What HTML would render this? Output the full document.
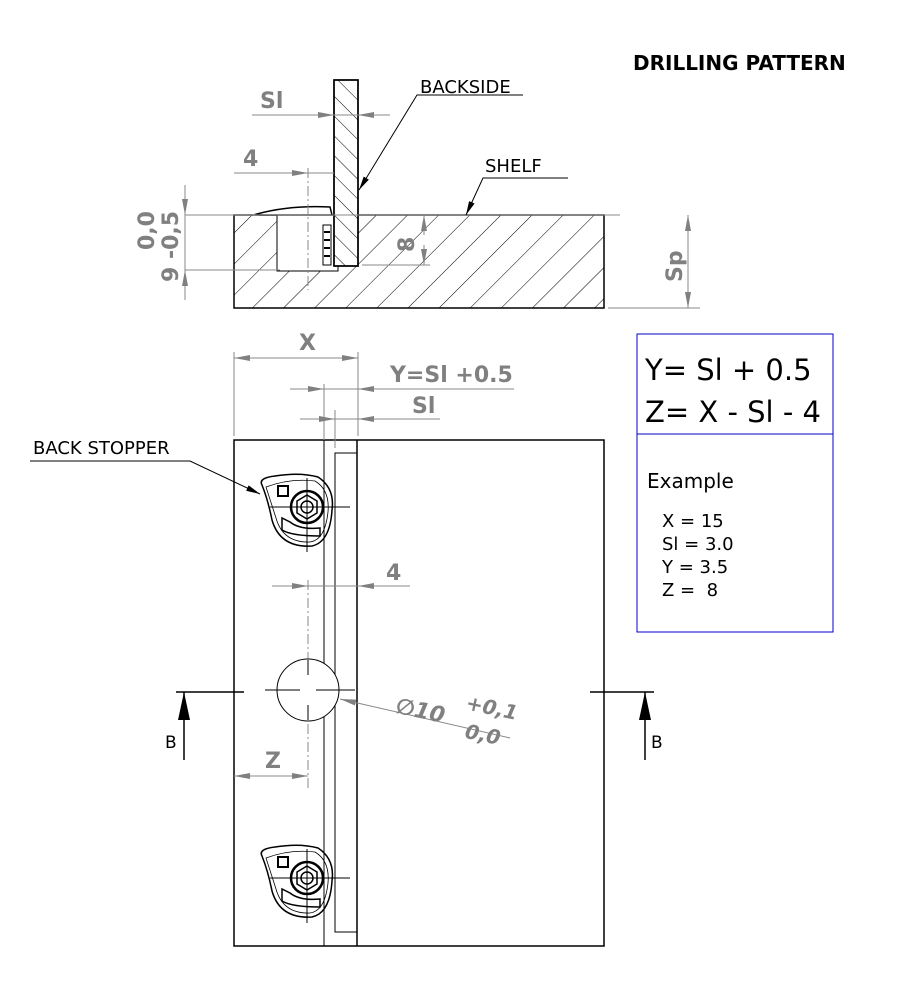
<!DOCTYPE html>
<html><head><style>
body{margin:0;background:#fff}
svg{display:block}
.d{fill:#808080;font-family:"DejaVu Sans","Liberation Sans",sans-serif;font-weight:bold}
.t{fill:#000;font-family:"DejaVu Sans","Liberation Sans",sans-serif}
</style></head><body>
<svg width="919" height="1007" viewBox="0 0 919 1007" xmlns="http://www.w3.org/2000/svg">
<defs>
<pattern id="h" width="22" height="22" patternUnits="userSpaceOnUse" patternTransform="rotate(45)">
<line x1="0" y1="0" x2="0" y2="22" stroke="#000" stroke-width="1"/></pattern>
<pattern id="h2" width="14" height="14" patternUnits="userSpaceOnUse" patternTransform="rotate(-45)">
<line x1="0" y1="0" x2="0" y2="14" stroke="#000" stroke-width="1"/></pattern>
<marker id="a" markerWidth="16" markerHeight="6" refX="16" refY="3" orient="auto" markerUnits="userSpaceOnUse">
<path d="M0,0 L16,3 L0,6z" fill="#808080"/></marker>
<marker id="k" markerWidth="14" markerHeight="6" refX="14" refY="3" orient="auto" markerUnits="userSpaceOnUse">
<path d="M0,0 L14,3 L0,6z" fill="#000"/></marker>
</defs>
<text x="633" y="70" class="t" font-size="20" font-weight="bold">DRILLING PATTERN</text>

<rect x="234" y="215" width="370" height="93" fill="url(#h)" stroke="#000" stroke-width="1.5"/>
<rect x="277" y="215" width="61" height="56" fill="#fff" stroke="#000"/>
<rect x="334" y="80" width="24" height="186" fill="#fff" stroke="#000" stroke-width="1.5"/>
<rect x="334" y="80" width="24" height="186" fill="url(#h2)" stroke="#000" stroke-width="1.5"/>
<path d="M257,214 Q290,205 330,207 L332,215 L260,215z" fill="#fff" stroke="#000" stroke-width="1.5"/>
<rect x="323" y="225" width="8" height="40" fill="#fff" stroke="#000"/>
<g stroke="#000" stroke-width="2"><line x1="324" y1="232" x2="330" y2="232"/><line x1="324" y1="240" x2="330" y2="240"/><line x1="324" y1="248" x2="330" y2="248"/><line x1="324" y1="256" x2="330" y2="256"/></g>
<g stroke="#888" stroke-width="1" fill="none">
<line x1="252" y1="115" x2="390" y2="115"/>
<line x1="312" y1="115" x2="334" y2="115" marker-end="url(#a)"/>
<line x1="385" y1="115" x2="358" y2="115" marker-end="url(#a)"/>
<line x1="234" y1="173" x2="334" y2="173"/>
<line x1="288" y1="173" x2="308" y2="173" marker-end="url(#a)"/>
<line x1="308" y1="168" x2="308" y2="290" stroke-dasharray="10,3,2,3"/>
<line x1="185" y1="215" x2="620" y2="215"/>
<line x1="185" y1="270" x2="280" y2="270"/>
<line x1="185" y1="185" x2="185" y2="300"/>
<line x1="185" y1="190" x2="185" y2="215" marker-end="url(#a)"/>
<line x1="185" y1="295" x2="185" y2="270" marker-end="url(#a)"/>
<line x1="362" y1="265" x2="430" y2="265"/>
<line x1="424" y1="235" x2="424" y2="215" marker-end="url(#a)"/>
<line x1="424" y1="245" x2="424" y2="265" marker-end="url(#a)"/>
<line x1="608" y1="308" x2="700" y2="308"/>
<line x1="688" y1="215" x2="688" y2="308"/>
<line x1="688" y1="250" x2="688" y2="215" marker-end="url(#a)"/>
<line x1="688" y1="270" x2="688" y2="308" marker-end="url(#a)"/>
</g>
<text x="260" y="108" class="d" font-size="22">Sl</text>
<text x="243" y="166" class="d" font-size="22">4</text>
<text class="d" font-size="22" transform="translate(154,250) rotate(-90)">0,0</text>
<text class="d" font-size="22" transform="translate(178,282) rotate(-90)">9 -0,5</text>
<text class="d" font-size="22" transform="translate(414,252) rotate(-90)">8</text>
<text class="d" font-size="22" transform="translate(682,282) rotate(-90)">Sp</text>
<g stroke="#000" fill="none"><path d="M523,95 L417,95 L359,190" marker-end="url(#k)"/><path d="M568,178 L483,178 L466,215" marker-end="url(#k)"/></g>
<text x="420" y="93" class="t" font-size="18">BACKSIDE</text>
<text x="485" y="172" class="t" font-size="18">SHELF</text>

<rect x="234" y="440" width="370" height="506" fill="none" stroke="#000" stroke-width="1.5"/>
<line x1="324" y1="440" x2="324" y2="946" stroke="#000"/>
<line x1="357" y1="440" x2="357" y2="946" stroke="#000" stroke-width="1.5"/>
<rect x="335" y="453" width="22" height="479" fill="none" stroke="#000"/>
<g stroke="#888" fill="none">
<line x1="234" y1="352" x2="234" y2="436"/><line x1="358" y1="352" x2="358" y2="436"/>
<line x1="234" y1="358" x2="358" y2="358"/>
<line x1="260" y1="358" x2="234" y2="358" marker-end="url(#a)"/>
<line x1="332" y1="358" x2="358" y2="358" marker-end="url(#a)"/>
<line x1="324" y1="384" x2="324" y2="440"/><line x1="335" y1="410" x2="335" y2="448"/>
<line x1="290" y1="389" x2="514" y2="389"/>
<line x1="302" y1="389" x2="324" y2="389" marker-end="url(#a)"/>
<line x1="380" y1="389" x2="358" y2="389" marker-end="url(#a)"/>
<line x1="300" y1="419" x2="440" y2="419"/>
<line x1="314" y1="419" x2="335" y2="419" marker-end="url(#a)"/>
<line x1="380" y1="419" x2="358" y2="419" marker-end="url(#a)"/>
<line x1="272" y1="586" x2="410" y2="586"/>
<line x1="288" y1="586" x2="308" y2="586" marker-end="url(#a)"/>
<line x1="380" y1="586" x2="358" y2="586" marker-end="url(#a)"/>
<line x1="234" y1="776" x2="308" y2="776"/>
<line x1="260" y1="776" x2="234" y2="776" marker-end="url(#a)"/>
<line x1="285" y1="776" x2="308" y2="776" marker-end="url(#a)"/>
<line x1="308" y1="580" x2="308" y2="790" stroke-dasharray="10,3,2,3"/>
<line x1="510" y1="738" x2="340" y2="699" marker-end="url(#a)"/>
</g>
<circle cx="308" cy="690" r="31" fill="#fff" stroke="#000"/>
<g stroke="#000"><line x1="265" y1="690" x2="300" y2="690"/><line x1="316" y1="690" x2="355" y2="690"/><line x1="308" y1="660" x2="308" y2="675"/><line x1="308" y1="705" x2="308" y2="720"/></g>
<text x="299" y="350" class="d" font-size="22">X</text>
<text x="390" y="382" class="d" font-size="22">Y=Sl +0.5</text>
<text x="412" y="413" class="d" font-size="22">Sl</text>
<text x="386" y="580" class="d" font-size="22">4</text>
<text x="265" y="768" class="d" font-size="22">Z</text>
<g transform="rotate(12 430 715)"><text x="395" y="720" class="d" font-size="22" font-style="italic" font-weight="normal">∅10</text>
<text x="463" y="702" class="d" font-size="20" font-style="italic">+0,1</text><text x="468" y="730" class="d" font-size="20" font-style="italic">0,0</text></g>

<g id="s" fill="none" stroke="#000" stroke-width="1.5">
<path d="M262,485 Q258,478 275,476 Q300,472 318,477 Q335,488 332,510 Q330,542 312,546 Q280,548 272,520 Q268,500 262,485z"/>
<path d="M266,487 Q290,478 315,481 Q330,490 328,512 Q325,540 310,542 Q283,543 276,518z" stroke-width="0.8"/>
<rect x="278" y="486" width="10" height="10" stroke-width="2"/>
<circle cx="307" cy="507" r="16" stroke-width="2.5"/>
<path d="M307,495 L317,501 L317,513 L307,519 L297,513 L297,501z"/>
<circle cx="307" cy="507" r="6"/>
<path d="M282,518 L282,530 Q292,536 320,536 L320,528 Q300,530 290,522z"/>
<line x1="270" y1="507" x2="350" y2="507" stroke-width="1"/><line x1="307" y1="478" x2="307" y2="552" stroke-width="1"/>
</g>
<use href="#s" transform="translate(0,371)"/>
<path d="M30,461 L190,461 L260,494" fill="none" stroke="#000" marker-end="url(#k)"/>
<text x="33" y="454" class="t" font-size="18">BACK STOPPER</text>

<g stroke="#000" stroke-width="1.5" fill="none">
<line x1="176" y1="692" x2="244" y2="692"/><line x1="184" y1="692" x2="184" y2="760"/>
<line x1="590" y1="692" x2="654" y2="692"/><line x1="645" y1="692" x2="645" y2="760"/></g>
<path d="M178,720 L184,692 L190,720z" fill="#000"/><path d="M639,720 L645,692 L651,720z" fill="#000"/>
<text x="165" y="748" class="t" font-size="17">B</text><text x="651" y="748" class="t" font-size="17">B</text>

<rect x="637" y="334" width="196" height="298" fill="none" stroke="#0000cc"/>
<line x1="637" y1="434" x2="833" y2="434" stroke="#0000cc"/>
<text x="645" y="380" class="t" font-size="29">Y= Sl + 0.5</text>
<text x="645" y="422" class="t" font-size="29">Z= X - Sl - 4</text>
<text x="647" y="488" class="t" font-size="20">Example</text>
<text x="662" y="527" class="t" font-size="18">X = 15</text>
<text x="662" y="550" class="t" font-size="18">Sl = 3.0</text>
<text x="662" y="573" class="t" font-size="18">Y = 3.5</text>
<text x="662" y="596" class="t" font-size="18" xml:space="preserve">Z =  8</text>
</svg>
</body></html>
